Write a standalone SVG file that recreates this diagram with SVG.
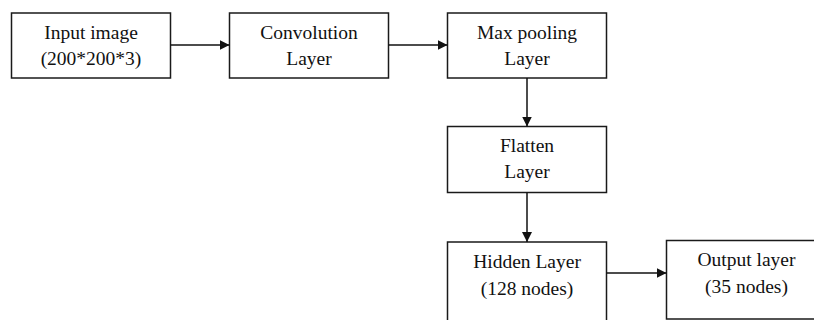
<svg xmlns="http://www.w3.org/2000/svg" width="814" height="320" viewBox="0 0 814 320">
<style>
.box{fill:#fff;stroke:#1a1a1a;stroke-width:1.5}
.lbl{font-family:"Liberation Serif","Times New Roman",serif;font-size:19.5px;fill:#111;text-anchor:middle}
.edge{stroke:#111;stroke-width:1.5;fill:none;marker-end:url(#ah)}
</style>
<defs>
<marker id="ah" markerWidth="10" markerHeight="10" refX="10" refY="5" orient="auto" markerUnits="userSpaceOnUse">
<path d="M0,0 L10,5 L0,10 Z" fill="#111"/>
</marker>
</defs>
<rect width="814" height="320" fill="#fff"/>
<g id="input">
<rect class="box" x="11.5" y="13" width="159" height="65"/>
<text class="lbl" x="91" y="39">Input image</text>
<text class="lbl" x="91" y="65">(200*200*3)</text>
</g>
<g id="conv">
<rect class="box" x="229.5" y="13" width="159" height="65"/>
<text class="lbl" x="309" y="39">Convolution</text>
<text class="lbl" x="309" y="65">Layer</text>
</g>
<g id="maxpool">
<rect class="box" x="447.5" y="13" width="159" height="65"/>
<text class="lbl" x="527" y="39">Max pooling</text>
<text class="lbl" x="527" y="65">Layer</text>
</g>
<g id="flatten">
<rect class="box" x="447.5" y="126.5" width="159" height="66"/>
<text class="lbl" x="527" y="152">Flatten</text>
<text class="lbl" x="527" y="178">Layer</text>
</g>
<g id="hidden">
<rect class="box" x="447.5" y="242" width="159" height="90"/>
<text class="lbl" x="527" y="268">Hidden Layer</text>
<text class="lbl" x="527" y="295">(128 nodes)</text>
</g>
<g id="output">
<rect class="box" x="666.5" y="240.5" width="161" height="78.5"/>
<text class="lbl" x="746.5" y="266">Output layer</text>
<text class="lbl" x="746.5" y="293">(35 nodes)</text>
</g>
<g id="connectors">
<line class="edge" x1="170.5" y1="45" x2="229.5" y2="45"/>
<line class="edge" x1="388.5" y1="45" x2="447.5" y2="45"/>
<line class="edge" x1="527" y1="78" x2="527" y2="126.5"/>
<line class="edge" x1="527" y1="192.5" x2="527" y2="242"/>
<line class="edge" x1="606.5" y1="273" x2="666.5" y2="273"/>
</g>
</svg>
